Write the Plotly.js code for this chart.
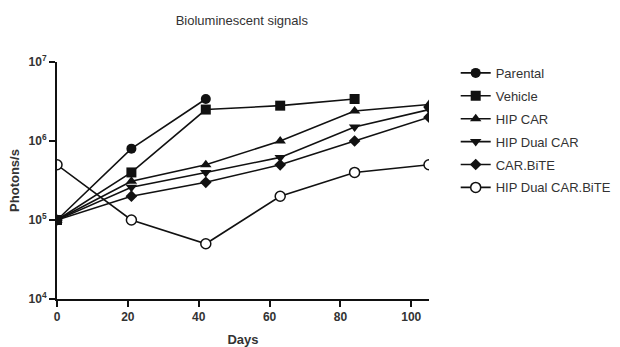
<!DOCTYPE html>
<html>
<head>
<meta charset="utf-8">
<script src="https://cdn.plot.ly/plotly-3.0.1.min.js"></script>
<style>html,body{margin:0;padding:0;background:#fff;}#chart{width:620px;height:347px;}</style>
</head>
<body>
<div id="chart"></div>
<script>
// Data
const seriesNames = ["Parental", "Vehicle", "HIP CAR", "HIP Dual CAR", "CAR.BiTE", "HIP Dual CAR.BiTE"];
const parentalDays = [0, 21, 42];
const parentalVals = [1e5, 8e5, 3.4e6];
const vehicleDays = [0, 21, 42, 63, 84];
const vehicleVals = [1e5, 4e5, 2.5e6, 2.8e6, 3.4e6];
const hipCarDays = [0, 21, 42, 63, 84, 105];
const hipCarVals = [1e5, 3.1e5, 5e5, 1e6, 2.4e6, 2.9e6];
const hipDualCarDays = [0, 21, 42, 63, 84, 105];
const hipDualCarVals = [1e5, 2.6e5, 4e5, 6.2e5, 1.5e6, 2.5e6];
const carBiteDays = [0, 21, 42, 63, 84, 105];
const carBiteVals = [1e5, 2e5, 3e5, 5e5, 1e6, 2e6];
const hipDualCarBiteDays = [0, 21, 42, 63, 84, 105];
const hipDualCarBiteVals = [5e5, 1e5, 5e4, 2e5, 4e5, 5e5];
const xTicks = [0, 20, 40, 60, 80, 100];
const yTicks = [1e4, 1e5, 1e6, 1e7];
const yTickText = ["10<sup>4</sup>", "10<sup>5</sup>", "10<sup>6</sup>", "10<sup>7</sup>"];

const lineColor = "#111111";
function mk(name, x, y, symbol, size, open) {
  return {
    type: "scatter", mode: "lines+markers", name: name, x: x, y: y,
    legendgroup: name,
    line: {color: lineColor, width: 1.6},
    marker: {
      symbol: symbol, size: size,
      color: open ? "#ffffff" : lineColor,
      line: {color: lineColor, width: open ? 1.5 : 0}
    }
  };
}
const data = [
  mk(seriesNames[0], parentalDays, parentalVals, "circle", 10, false),
  mk(seriesNames[1], vehicleDays, vehicleVals, "square", 10, false),
  mk(seriesNames[2], hipCarDays, hipCarVals, "triangle-up", 10, false),
  mk(seriesNames[3], hipDualCarDays, hipDualCarVals, "triangle-down", 10, false),
  mk(seriesNames[4], carBiteDays, carBiteVals, "diamond", 9, false),
  mk(seriesNames[5], hipDualCarBiteDays, hipDualCarBiteVals, "circle", 10, true)
];

const layout = {
  width: 620, height: 347,
  margin: {l: 57, r: 191, t: 62, b: 48},
  paper_bgcolor: "#ffffff", plot_bgcolor: "#ffffff",
  font: {family: "Liberation Sans, Arial, sans-serif", color: "#333333"},
  title: {text: "Bioluminescent signals", font: {size: 13, color: "#333333"}, x: 0.39, xanchor: "center", y: 0.94, yanchor: "middle"},
  showlegend: true,
  legend: {xref: "container", yref: "container", x: 0.735, xanchor: "left", y: 0.833, yanchor: "top",
           font: {size: 13, color: "#333333"}, tracegroupgap: 3, itemwidth: 30, bgcolor: "rgba(0,0,0,0)"},
  xaxis: {
    range: [0, 105], tickvals: xTicks, ticktext: xTicks.map(v => "<b>" + v + "</b>"),
    showgrid: false, zeroline: false, showline: true, linecolor: "#111111", linewidth: 2,
    ticks: "outside", ticklen: 6, tickwidth: 2, tickcolor: "#111111",
    tickfont: {size: 12, color: "#333333"},
    title: {text: "<b>Days</b>", font: {size: 13, color: "#333333"}, standoff: 12}
  },
  yaxis: {
    type: "log", range: [4, 7], tickvals: yTicks, ticktext: yTickText.map(t => "<b>" + t + "</b>"),
    showgrid: false, zeroline: false, showline: true, linecolor: "#111111", linewidth: 2,
    ticks: "outside", ticklen: 6, tickwidth: 2, tickcolor: "#111111",
    tickfont: {size: 12, color: "#333333"},
    title: {text: "<b>Photons/s</b>", font: {size: 13, color: "#333333"}, standoff: 6}
  }
};
Plotly.newPlot("chart", data, layout, {displayModeBar: false, staticPlot: true});
</script>
</body>
</html>
